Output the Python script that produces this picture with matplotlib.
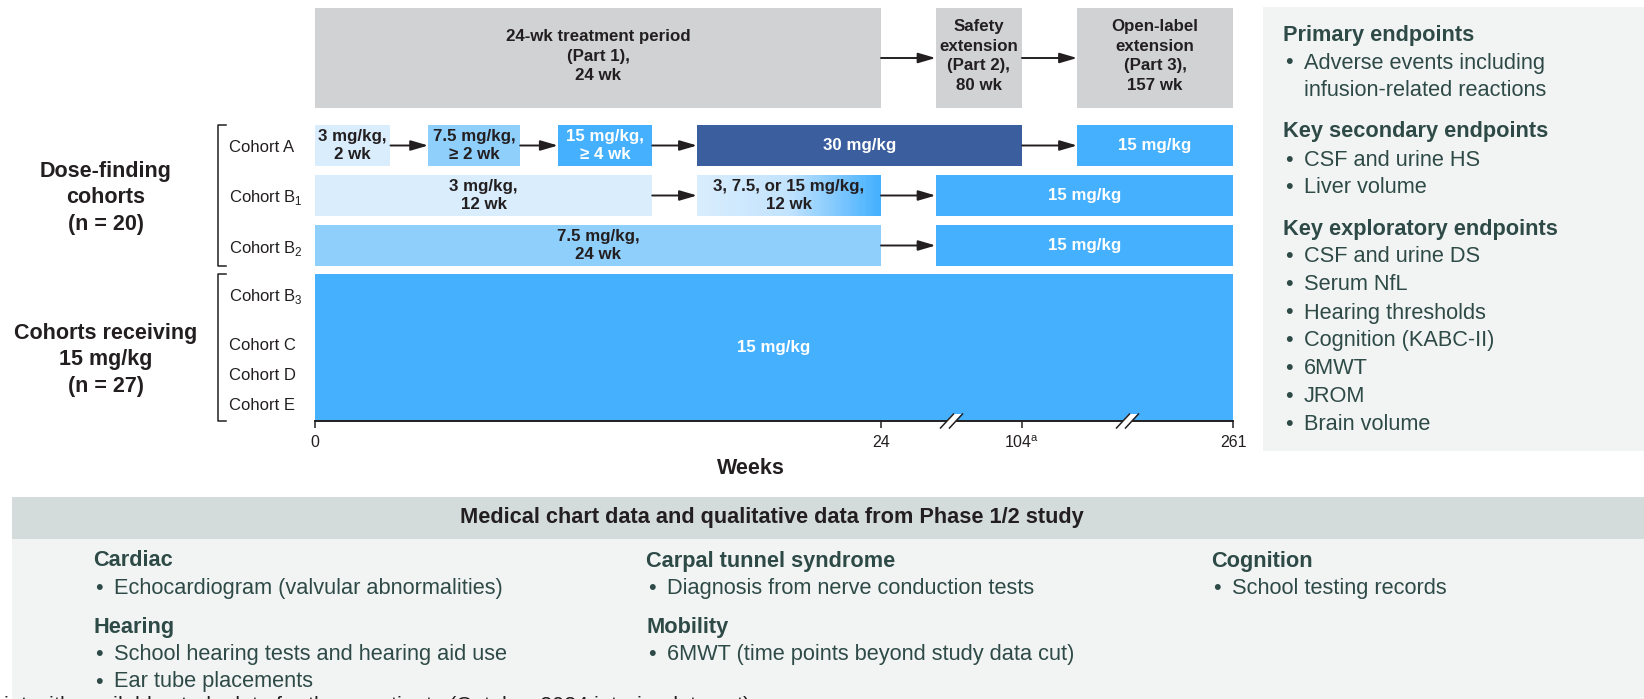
import numpy as np
import matplotlib
matplotlib.use("Agg")
import matplotlib.pyplot as plt
from matplotlib.colors import LinearSegmentedColormap
from matplotlib.patches import Rectangle, Polygon
from matplotlib.lines import Line2D

plt.rcParams["font.family"] = ["Liberation Sans", "DejaVu Sans"]

W, H = 1644, 699          # output size in px (dpi 100)

# ---------------------------------------------------------------------------
# data
# ---------------------------------------------------------------------------
week_ticks = [0, 24, 104, 261]
week_tick_labels = ["0", "24", "104$^{\\mathregular{a}}$", "261"]

period_labels = ["24-wk treatment period\n(Part 1),\n24 wk",
                 "Safety\nextension\n(Part 2),\n80 wk",
                 "Open-label\nextension\n(Part 3),\n157 wk"]
period_start = [0, 55, 145]
period_end = [24, 104, 261]

cohortA_labels = ["3 mg/kg,\n2 wk", "7.5 mg/kg,\n\u2265 2 wk", "15 mg/kg,\n\u2265 4 wk",
                  "30 mg/kg", "15 mg/kg"]
cohortA_dose = ["3", "7.5", "15", "30", "15"]
cohortA_start = [0, 4.8, 10.3, 16.2, 145]
cohortA_end = [3.2, 8.7, 14.3, 104, 261]

cohortB1_labels = ["3 mg/kg,\n12 wk", "3, 7.5, or 15 mg/kg,\n12 wk", "15 mg/kg"]
cohortB1_dose = ["3", "3-15", "15"]
cohortB1_start = [0, 16.2, 55]
cohortB1_end = [14.3, 24, 261]

cohortB2_labels = ["7.5 mg/kg,\n24 wk", "15 mg/kg"]
cohortB2_dose = ["7.5", "15"]
cohortB2_start = [0, 55]
cohortB2_end = [24, 261]

cohort15_labels = ["15 mg/kg"]
cohort15_dose = ["15"]
cohort15_start = [0]
cohort15_end = [261]

cohort_names = ["Cohort A", "Cohort B$_\\mathregular{1}$", "Cohort B$_\\mathregular{2}$",
                "Cohort B$_\\mathregular{3}$", "Cohort C", "Cohort D", "Cohort E"]
group_labels = ["Dose-finding\ncohorts\n(n = 20)", "Cohorts receiving\n15 mg/kg\n(n = 27)"]

endpoint_groups = [
    ("Primary endpoints", ["Adverse events including\ninfusion-related reactions"]),
    ("Key secondary endpoints", ["CSF and urine HS", "Liver volume"]),
    ("Key exploratory endpoints", ["CSF and urine DS", "Serum NfL", "Hearing thresholds",
                                   "Cognition (KABC-II)", "6MWT", "JROM", "Brain volume"]),
]

chart_title = "Medical chart data and qualitative data from Phase 1/2 study"
chart_columns = [
    [("Cardiac", ["Echocardiogram (valvular abnormalities)"]),
     ("Hearing", ["School hearing tests and hearing aid use", "Ear tube placements"])],
    [("Carpal tunnel syndrome", ["Diagnosis from nerve conduction tests"]),
     ("Mobility", ["6MWT (time points beyond study data cut)"])],
    [("Cognition", ["School testing records"])],
]
footnote = ("$^{\\mathregular{a}}$Last time point with available study data for these "
            "patients (October 2024 interim data cut)")

# ---------------------------------------------------------------------------
# styling
# ---------------------------------------------------------------------------
DARK = "#231f20"
TEAL = "#2e4a47"
GREY_BOX = "#d1d2d4"
dose_colors = {"3": "#d9edfd", "7.5": "#8fcffc", "15": "#45b0fe", "30": "#3b5e9e"}
white_text = {"15", "30"}
grad_cmap = LinearSegmentedColormap.from_list(
    "grad", [(0, "#d9edfd"), (0.5, "#c2e3fd"), (1, "#45b0fe")])

# broken time axis: weeks -> pixel offset along the axis
knot_pos = [0, 566, 707, 918]


def fwd(x):
    return np.interp(x, week_ticks, knot_pos)


def inv(p):
    return np.interp(p, knot_pos, week_ticks)


def fx(x):
    return x / W


def fy(y):
    return 1 - y / H


def fig_line(xs, ys, **kw):
    fig.add_artist(Line2D([fx(v) for v in xs], [fy(v) for v in ys],
                          transform=fig.transFigure, **kw))


fig = plt.figure(figsize=(W / 100, H / 100), dpi=100)
fig.patch.set_facecolor("white")

AX_L, AX_R, AX_T, AX_B = 315, 1233, 8, 421
ax = fig.add_axes([fx(AX_L), fy(AX_B), (AX_R - AX_L) / W, (AX_B - AX_T) / H])
ax.set_xscale("function", functions=(fwd, inv))
ax.set_xlim(0, 261)
ax.set_ylim(AX_B, AX_T)
ax.patch.set_visible(False)
for s in ["top", "left", "right"]:
    ax.spines[s].set_visible(False)
ax.spines["bottom"].set_color(DARK)
ax.spines["bottom"].set_linewidth(1.4)
ax.set_yticks([])
ax.set_xticks(week_ticks)
ax.set_xticklabels(week_tick_labels, fontsize=11.5, color=DARK)
ax.tick_params(axis="x", direction="out", length=5, width=1.1, color=DARK, pad=5)
ax.xaxis.set_minor_locator(matplotlib.ticker.NullLocator())


def mid(s, e):
    return inv((fwd(s) + fwd(e)) / 2)


def arrow(x0, x1, y):
    ax.annotate("", xy=(x1, y), xytext=(x0, y),
                arrowprops=dict(arrowstyle="-|>,head_length=0.75,head_width=0.22",
                                mutation_scale=14, color=DARK, lw=1.4,
                                shrinkA=0, shrinkB=0))


# --- study periods (top grey boxes) ---
top, bot = 8, 108
for lab, s, e in zip(period_labels, period_start, period_end):
    ax.barh((top + bot) / 2, e - s, left=s, height=bot - top, color=GREY_BOX, lw=0)
    ax.text(mid(s, e), (top + bot) / 2 - 2, lab, ha="center", va="center",
            fontsize=12.2, fontweight="bold", color=DARK, linespacing=1.38)
for i in range(len(period_start) - 1):
    arrow(period_end[i], period_start[i + 1], (top + bot) / 2)

# --- cohort rows ---
rows = [
    (cohortA_labels, cohortA_dose, cohortA_start, cohortA_end, (125, 166)),
    (cohortB1_labels, cohortB1_dose, cohortB1_start, cohortB1_end, (175, 216)),
    (cohortB2_labels, cohortB2_dose, cohortB2_start, cohortB2_end, (225, 266)),
    (cohort15_labels, cohort15_dose, cohort15_start, cohort15_end, (274, 421)),
]
for labels, doses, starts, ends, (top, bot) in rows:
    yc = (top + bot) / 2
    for lab, d, s, e in zip(labels, doses, starts, ends):
        if d == "3-15":
            edges = np.linspace(s, e, 81)
            fr = np.linspace(0, 1, 80)
            ax.barh(np.full(80, yc), np.diff(edges), left=edges[:-1], height=bot - top,
                    color=grad_cmap(fr), lw=0)
        else:
            ax.barh(yc, e - s, left=s, height=bot - top, color=dose_colors[d], lw=0)
        ax.text(mid(s, e), yc, lab, ha="center", va="center", fontsize=12.2,
                fontweight="bold", linespacing=1.3,
                color="white" if d in white_text else DARK)
    for i in range(len(starts) - 1):
        arrow(ends[i], starts[i + 1], yc)

# --- axis breaks ---
for k in (1, 2):
    xb = AX_L + (knot_pos[k] + knot_pos[k + 1]) / 2
    yb = AX_B
    fig.add_artist(Polygon([(fx(xb - 10), fy(yb + 7)), (fx(xb - 1), fy(yb + 7)),
                            (fx(xb + 10), fy(yb - 7)), (fx(xb + 1), fy(yb - 7))],
                           closed=True, transform=fig.transFigure,
                           facecolor="white", edgecolor="none"))
    for dx in (-4.5, 4.5):
        fig_line([xb + dx - 6.5, xb + dx + 6.5], [yb + 7, yb - 7], color=DARK, lw=1.1)

fig.text(fx(751), fy(469), "Weeks", ha="center", va="center", fontsize=15.5,
         fontweight="bold", color=DARK)

# --- cohort names, brackets, group labels ---
name_y = [148, 198, 248, 297, 346, 376, 406]
for name, y in zip(cohort_names, name_y):
    fig.text(fx(229), fy(y), name, ha="left", va="center", fontsize=12, color=DARK)
for (t, b) in [(125, 266), (274, 421)]:
    fig_line([226, 218, 218, 226], [t, t, b, b], color=DARK, lw=1.1)
for lab, y in zip(group_labels, [198, 360]):
    fig.text(fx(106), fy(y), lab, ha="center", va="center", fontsize=15.5,
             fontweight="bold", color=DARK, linespacing=1.33)

# --- endpoints panel ---
fig.patches.append(Rectangle((fx(1263), fy(451)), (W - 1263) / W, (451 - 7) / H,
                             transform=fig.transFigure, facecolor="#f2f4f3",
                             edgecolor="none", zorder=0))


def bullet_block(x, y, groups, step=28, gap=13):
    for head, items in groups:
        fig.text(fx(x), fy(y), head, ha="left", va="center", fontsize=15.7,
                 fontweight="bold", color=TEAL)
        y += step
        for item in items:
            for j, line in enumerate(item.split("\n")):
                if j == 0:
                    fig.text(fx(x + 2), fy(y), "\u2022", ha="left", va="center",
                             fontsize=15.7, color=TEAL)
                fig.text(fx(x + 21), fy(y), line, ha="left", va="center",
                         fontsize=15.7, color=TEAL)
                y += step
        y += gap


bullet_block(1283, 35, endpoint_groups)

# --- medical chart data panel ---
fig.patches.append(Rectangle((fx(12), fy(539)), (W - 12) / W, (539 - 497) / H,
                             transform=fig.transFigure, facecolor="#d4dcdb",
                             edgecolor="none", zorder=0))
fig.patches.append(Rectangle((fx(12), 0), (W - 12) / W, fy(539),
                             transform=fig.transFigure, facecolor="#f2f4f3",
                             edgecolor="none", zorder=0))
fig.text(fx(772), fy(518), chart_title, ha="center", va="center", fontsize=15.7,
         fontweight="bold", color=DARK)
for x, groups in zip([93, 646, 1211], chart_columns):
    bullet_block(x, 561, groups, step=27.5, gap=11)

fig.text(fx(750), fy(713), footnote, ha="right", va="baseline", fontsize=15.7,
         color=DARK)

fig.savefig("out.png", dpi=100)
